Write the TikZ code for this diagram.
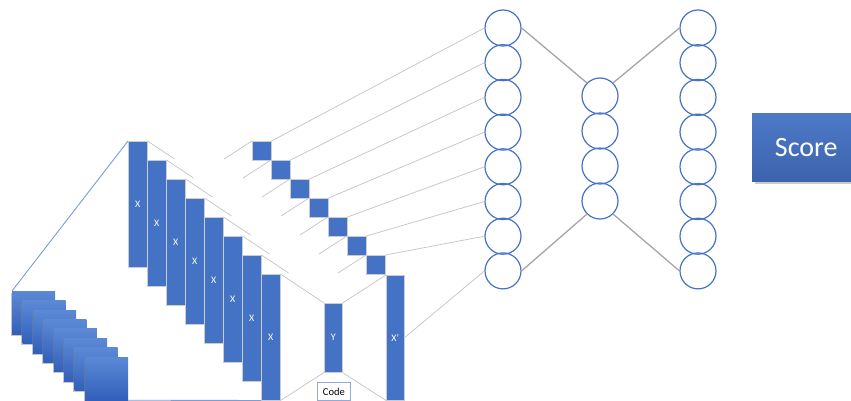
\documentclass[tikz,border=0pt]{standalone}
\usepackage{fontspec}
\setmainfont{Carlito}
\usetikzlibrary{shadows}

\definecolor{barblue}{RGB}{68,114,196}
\definecolor{edgeblue}{RGB}{120,156,220}
\definecolor{codeblue}{RGB}{143,170,220}
\definecolor{guidegray}{RGB}{200,200,200}
\definecolor{netgray}{RGB}{165,165,165}
\definecolor{slidetop}{RGB}{92,137,214}
\definecolor{slidebot}{RGB}{50,96,186}

\begin{document}
\begin{tikzpicture}[x=1pt,y=-1pt,
  bar/.style={fill=barblue, draw=white!80!black, line width=.5pt, inner sep=0pt,
    anchor=north west, text=white, font=\fontsize{10}{10}\selectfont},
  cell/.style={bar, minimum width=19pt, minimum height=19pt},
  slide/.style={top color=slidetop, bottom color=slidebot, minimum size=43pt,
    inner sep=0pt, anchor=north west,
    drop shadow={shadow xshift=-1.2pt, shadow yshift=-1.5pt, opacity=.45}},
  neuron/.style={circle, draw=barblue, line width=1.2pt, minimum size=36pt, inner sep=0pt},
  edge/.style={edgeblue, line width=.9pt},
  guide/.style={guidegray, line width=.8pt},
  link/.style={netgray, line width=1.3pt}]
\useasboundingbox (0,0) rectangle (851,401);

\foreach \i in {1,...,8}
  \node[slide] (f\i) at ({12+10.4*(\i-1)},{291+9.4*(\i-1)}) {};

\foreach \i in {1,...,8}
  \node[bar, minimum width=19pt, minimum height=126pt] (x\i) at ({128+19*(\i-1)},{141+19*(\i-1)}) {X};

\foreach \i in {1,...,7}
  \node[cell] (s\i) at ({252+19*(\i-1)},{141+19*(\i-1)}) {};

\node[bar, minimum width=18pt, minimum height=125pt] (xp) at (386,275) {X'};
\node[bar, minimum width=18pt, minimum height=69pt] (y) at (324,303) {Y};
\node[draw=codeblue, line width=.8pt, minimum width=33pt, minimum height=18pt, inner sep=0pt,
  anchor=north west, font=\fontsize{10.5}{10.5}\selectfont] (code) at (317,382) {Code};

\foreach \k in {1,...,8} {
  \node[neuron] (l\k) at (503,{28+34.7*(\k-1)}) {};
  \node[neuron] (r\k) at (698,{28+34.7*(\k-1)}) {};
}
\foreach \k in {1,...,4}
  \node[neuron] (m\k) at (600,{96+35*(\k-1)}) {};

\node[top color=barblue!95!white, bottom color=barblue!88!black, minimum width=108pt,
  minimum height=68pt, anchor=north west, drop shadow={opacity=.4}, text=white,
  font=\fontsize{28}{28}\selectfont] (score) at (752,113) {Score};

\draw[edge] (x1.north west) -- (f1.north west);
\draw[edge] (f8.south east) -- (x8.south west);

\foreach \i in {1,...,7}
  \draw[guide] (x\i.north east) -- ++(27,18);
\foreach \i in {1,...,7} {
  \draw[guide] (s\i.north west) -- ++(-28,18);
  \draw[guide] (s\i.north east) -- (l\i.west);
}
\draw[guide] (x8.north east) -- (y.north west);
\draw[guide] (x8.south east) -- (y.south west);
\draw[guide] (y.north east) -- (xp.north west);
\draw[guide] (y.south east) -- (xp.south west);
\draw[guide] (xp.east) -- (l8.west);

\draw[link] (l1.east) -- (m1.north west);
\draw[link] (m1.north east) -- (r1.west);
\draw[link] (l8.east) -- (m4.south west);
\draw[link] (m4.south east) -- (r8.west);
\end{tikzpicture}
\end{document}
